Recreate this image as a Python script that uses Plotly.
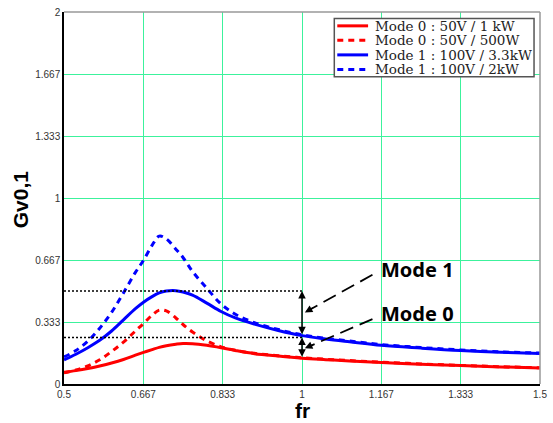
import plotly.graph_objects as go

# ---------------- data ----------------
fr = [0.5, 0.525, 0.55, 0.575, 0.6, 0.625, 0.65, 0.667, 0.685, 0.7, 0.715, 0.735,
      0.75, 0.77, 0.8, 0.83, 0.86, 0.9, 0.95, 1.0, 1.05, 1.1, 1.167, 1.25, 1.333,
      1.417, 1.5]

mode0_1kw = [0.063, 0.072, 0.083, 0.097, 0.113, 0.132, 0.155, 0.170, 0.185, 0.197,
             0.206, 0.214, 0.218, 0.217, 0.208, 0.195, 0.180, 0.163, 0.150, 0.139,
             0.131, 0.124, 0.115, 0.106, 0.099, 0.092, 0.086]
mode0_500w = [0.060, 0.075, 0.097, 0.130, 0.175, 0.225, 0.285, 0.325, 0.370, 0.397,
              0.393, 0.355, 0.320, 0.280, 0.232, 0.200, 0.181, 0.165, 0.152, 0.141,
              0.133, 0.126, 0.117, 0.108, 0.100, 0.093, 0.087]
mode1_33kw = [0.130, 0.160, 0.195, 0.235, 0.285, 0.345, 0.405, 0.440, 0.470, 0.490,
              0.500, 0.502, 0.495, 0.478, 0.435, 0.390, 0.355, 0.322, 0.288, 0.260,
              0.242, 0.227, 0.208, 0.193, 0.180, 0.171, 0.164]
mode1_2kw = [0.145, 0.180, 0.230, 0.300, 0.385, 0.490, 0.600, 0.665, 0.745, 0.795,
             0.780, 0.725, 0.680, 0.605, 0.515, 0.430, 0.375, 0.330, 0.293, 0.264,
             0.246, 0.231, 0.212, 0.196, 0.183, 0.173, 0.166]

series_names = ["Mode 0 : 50V / 1 kW", "Mode 0 : 50V / 500W",
                "Mode 1 : 100V / 3.3kW", "Mode 1 : 100V / 2kW"]
series_values = [mode0_1kw, mode0_500w, mode1_33kw, mode1_2kw]
series_colors = ["#ff0000", "#ff0000", "#0000ff", "#0000ff"]
series_dash = ["solid", "6px,5px", "solid", "6px,5px"]

x_tickvals = [0.5, 2/3, 5/6, 1.0, 7/6, 4/3, 1.5]
x_ticktext = ["0.5", "0.667", "0.833", "1", "1.167", "1.333", "1.5"]
y_tickvals = [0, 1/3, 2/3, 1.0, 4/3, 5/3, 2.0]
y_ticktext = ["0", "0.333", "0.667", "1", "1.333", "1.667", "2"]

level_mode1 = 0.5
level_mode0 = 0.25
fr_ref = 1.0

# ---------------- layout geometry ----------------
W, H = 553, 423
ML, MR, MT, MB = 64, 10, 6, 39
PW, PH = W - ML - MR, H - MT - MB


def px(xp):
    return (xp - ML) / PW


def py(yp):
    return (MT + PH - yp) / PH


fig = go.Figure()
for name, vals, col, dash in zip(series_names, series_values, series_colors, series_dash):
    fig.add_trace(go.Scatter(x=fr, y=vals, mode="lines", name=name,
                             line=dict(color=col, width=3, dash=dash, shape="spline"),
                             showlegend=False))

GRID = "#3cf29c"
shapes = []
annotations = []

# dotted reference levels
for lv in (level_mode1, level_mode0):
    shapes.append(dict(type="line", xref="x", yref="y", x0=0.5, x1=fr_ref, y0=lv, y1=lv,
                       line=dict(color="black", width=1.5, dash="2px,2px")))

# double-headed vertical arrows at fr = 1
blue_at_1 = mode1_33kw[fr.index(fr_ref)]
red_at_1 = mode0_1kw[fr.index(fr_ref)]
for top, bot in ((level_mode1, blue_at_1), (level_mode0, red_at_1)):
    annotations.append(dict(x=fr_ref, y=top, ax=fr_ref, ay=bot, xref="x", yref="y",
                            axref="x", ayref="y", showarrow=True, arrowhead=2,
                            arrowside="end+start", arrowsize=1, arrowwidth=1.5,
                            arrowcolor="black", text=""))

# dashed pointer arrows with labels
pointers = [("Mode 1", 0.614, (1.148, 0.587), (1.006, 0.385)),
            ("Mode 0", 0.378, (1.148, 0.349), (1.006, 0.192))]
for label, ty, (sx, sy), (ex, ey) in pointers:
    shapes.append(dict(type="line", xref="x", yref="y", x0=sx, y0=sy, x1=ex + 0.012,
                       y1=ey + (sy - ey) * 0.012 / (sx - ex),
                       line=dict(color="black", width=1.8, dash="14px,7px")))
    annotations.append(dict(x=ex, y=ey, ax=ex + 0.02, ay=ey + (sy - ey) * 0.02 / (sx - ex),
                            xref="x", yref="y", axref="x", ayref="y", showarrow=True,
                            arrowhead=2, arrowsize=1, arrowwidth=1.5, arrowcolor="black",
                            text=""))
    annotations.append(dict(x=1.161, y=ty, xref="x", yref="y", text="<b>%s</b>" % label,
                            showarrow=False, xanchor="left", yanchor="middle",
                            font=dict(family="Noto Sans, DejaVu Sans, sans-serif",
                                      size=20, color="black")))

# top and right gray frame
shapes.append(dict(type="line", xref="paper", yref="paper", x0=0, x1=1, y0=1, y1=1,
                   line=dict(color="#999999", width=1.5)))
shapes.append(dict(type="line", xref="paper", yref="paper", x0=1, x1=1, y0=0, y1=1,
                   line=dict(color="#999999", width=1.5)))

# manual legend
lx0, lx1, ly0, ly1 = 336, 537, 12.7, 71.7
shapes.append(dict(type="rect", xref="paper", yref="paper", x0=px(lx0), x1=px(lx1),
                   y0=py(ly1), y1=py(ly0), fillcolor="white",
                   line=dict(color="#555555", width=1.5), layer="above"))
row_h = (ly1 - ly0) / len(series_names)
for i, (name, col, dash) in enumerate(zip(series_names, series_colors, series_dash)):
    yc = ly0 + row_h * (i + 0.5)
    shapes.append(dict(type="line", xref="paper", yref="paper", x0=px(339), x1=px(370),
                       y0=py(yc), y1=py(yc), layer="above",
                       line=dict(color=col, width=3, dash=dash)))
    annotations.append(dict(x=px(375), y=py(yc), xref="paper", yref="paper", text=name,
                            showarrow=False, xanchor="left", yanchor="middle",
                            font=dict(family="DejaVu Serif, serif", size=13.5, color="#222")))

# axis titles
annotations.append(dict(x=px(21), y=py(196), xref="paper", yref="paper", text="<b>Gv0,1</b>",
                        textangle=-90, showarrow=False, xanchor="center", yanchor="middle",
                        font=dict(family="Liberation Sans, Arial, sans-serif", size=21,
                                  color="black")))
annotations.append(dict(x=px(304), y=py(411), xref="paper", yref="paper", text="<b>fr</b>",
                        showarrow=False, xanchor="center", yanchor="middle",
                        font=dict(family="Liberation Sans, Arial, sans-serif", size=21,
                                  color="black")))

fig.update_layout(
    width=W, height=H, margin=dict(l=ML, r=MR, t=MT, b=MB),
    plot_bgcolor="white", paper_bgcolor="white",
    shapes=shapes, annotations=annotations, showlegend=False,
    xaxis=dict(range=[0.5, 1.5], tickvals=x_tickvals, ticktext=x_ticktext,
               showgrid=True, gridcolor=GRID, gridwidth=1, zeroline=False,
               showline=True, linecolor="black", linewidth=1.5, ticks="",
               tickfont=dict(family="Liberation Sans, Arial", size=10, color="#333")),
    yaxis=dict(range=[0, 2], tickvals=y_tickvals, ticktext=y_ticktext,
               showgrid=True, gridcolor=GRID, gridwidth=1, zeroline=False,
               showline=True, linecolor="black", linewidth=1.5, ticks="",
               tickfont=dict(family="Liberation Sans, Arial", size=10, color="#333")),
)

fig.write_html("out.html", config={"displayModeBar": False},
               post_script="document.body.style.margin='0';document.body.style.overflow='hidden';")
